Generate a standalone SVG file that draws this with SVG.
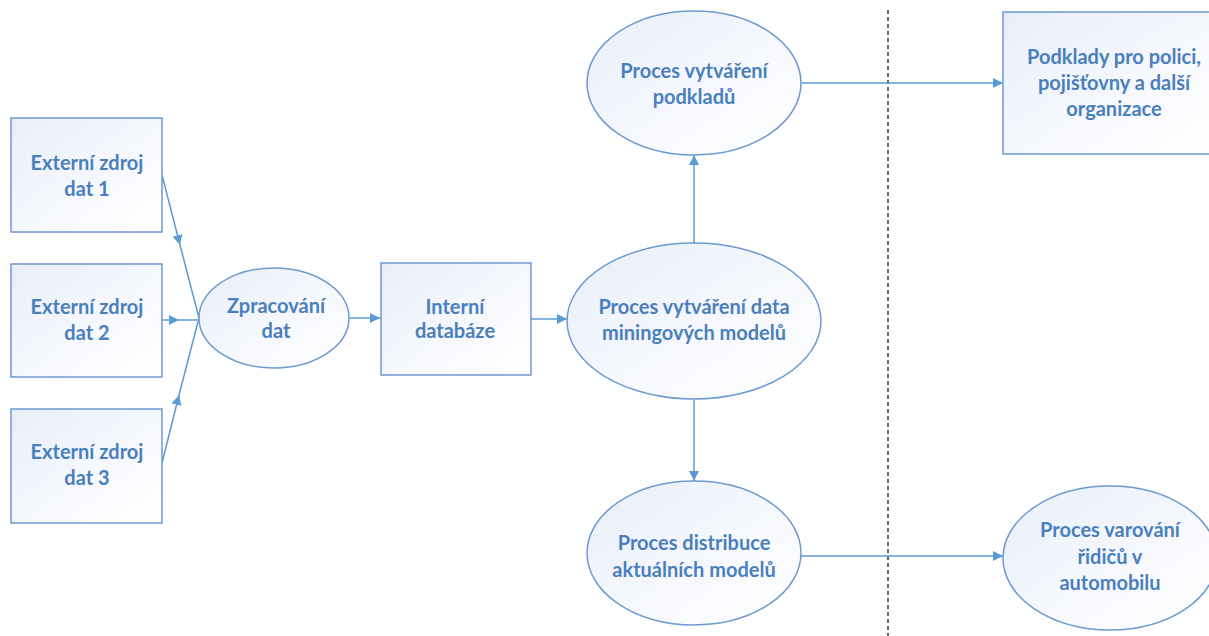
<svg xmlns="http://www.w3.org/2000/svg" width="1209" height="636" viewBox="0 0 1209 636">
  <defs>
    <linearGradient id="fillGrad" x1="0" y1="0" x2="1" y2="1">
      <stop offset="0" stop-color="#e8eef9"/>
      <stop offset="0.6" stop-color="#f7f9fd"/>
      <stop offset="1" stop-color="#ffffff"/>
    </linearGradient>
    <marker id="arrow" viewBox="0 0 10 10" refX="10" refY="5" markerWidth="10" markerHeight="10" markerUnits="userSpaceOnUse" orient="auto">
      <path d="M0,0 L10,5 L0,10 Z" fill="#5b9bd5"/>
    </marker>
    <style>
      .shape { fill: url(#fillGrad); stroke: #6b9bd1; stroke-width: 1.5; }
      .lbl { font-family: Lato, "Open Sans", sans-serif; font-weight: bold; font-size: 20px; fill: #4a7fbe; text-anchor: middle; }
      .conn { fill: none; stroke: #5b9bd5; stroke-width: 1.5; }
      .end { marker-end: url(#arrow); }
      .mid { marker-mid: url(#arrow); }
      .divider { stroke: #000; stroke-width: 1.2; stroke-dasharray: 4 3; fill: none; }
    </style>
  </defs>

  <rect width="1209" height="636" fill="#ffffff"/>

  <!-- boundary -->
  <line class="divider" x1="888" y1="10" x2="888" y2="636"/>

  <!-- connectors -->
  <g id="connectors">
    <path class="conn mid" d="M162,175 L180,245 L199,318"/>
    <path class="conn mid" d="M162,320 L179,320 L199,320"/>
    <path class="conn mid" d="M162,463 L179,395 L199,318"/>
    <path class="conn end" d="M349,318 L380,318"/>
    <path class="conn end" d="M531,319 L567,319"/>
    <path class="conn end" d="M694,243 L694,155"/>
    <path class="conn end" d="M801,83 L1003,83"/>
    <path class="conn end" d="M694,400 L694,481"/>
    <path class="conn end" d="M801,556 L1003,556"/>
  </g>

  <g id="ext1">
    <rect class="shape" x="11" y="118" width="151" height="114"/>
    <text class="lbl" x="87" y="170">Externí zdroj</text>
    <text class="lbl" x="87" y="196">dat 1</text>
  </g>
  <g id="ext2">
    <rect class="shape" x="11" y="264" width="151" height="113"/>
    <text class="lbl" x="87" y="314">Externí zdroj</text>
    <text class="lbl" x="87" y="340">dat 2</text>
  </g>
  <g id="ext3">
    <rect class="shape" x="11" y="409" width="151" height="114"/>
    <text class="lbl" x="87" y="459">Externí zdroj</text>
    <text class="lbl" x="87" y="485">dat 3</text>
  </g>

  <g id="zpracovani">
    <ellipse class="shape" cx="274" cy="318" rx="75" ry="50"/>
    <text class="lbl" x="276" y="313">Zpracování</text>
    <text class="lbl" x="276" y="338">dat</text>
  </g>

  <g id="interni">
    <rect class="shape" x="381" y="263" width="150" height="112"/>
    <text class="lbl" x="455" y="314">Interní</text>
    <text class="lbl" x="455" y="338">databáze</text>
  </g>

  <g id="mining">
    <ellipse class="shape" cx="694" cy="321" rx="127" ry="78"/>
    <text class="lbl" x="694" y="314">Proces vytváření data</text>
    <text class="lbl" x="694" y="340">miningových modelů</text>
  </g>

  <g id="podklady-proces">
    <ellipse class="shape" cx="694" cy="83" rx="107" ry="72"/>
    <text class="lbl" x="694" y="78">Proces vytváření</text>
    <text class="lbl" x="694" y="104">podkladů</text>
  </g>

  <g id="distribuce">
    <ellipse class="shape" cx="694" cy="553" rx="107" ry="72"/>
    <text class="lbl" x="694" y="550">Proces distribuce</text>
    <text class="lbl" x="694" y="577">aktuálních modelů</text>
  </g>

  <g id="podklady-org">
    <rect class="shape" x="1003" y="12" width="220" height="142"/>
    <text class="lbl" x="1114" y="64">Podklady pro polici,</text>
    <text class="lbl" x="1114" y="90">pojišťovny a další</text>
    <text class="lbl" x="1114" y="116">organizace</text>
  </g>

  <g id="varovani">
    <ellipse class="shape" cx="1110" cy="558" rx="107" ry="72"/>
    <text class="lbl" x="1110" y="537">Proces varování</text>
    <text class="lbl" x="1110" y="564">řidičů v</text>
    <text class="lbl" x="1110" y="590">automobilu</text>
  </g>
</svg>
